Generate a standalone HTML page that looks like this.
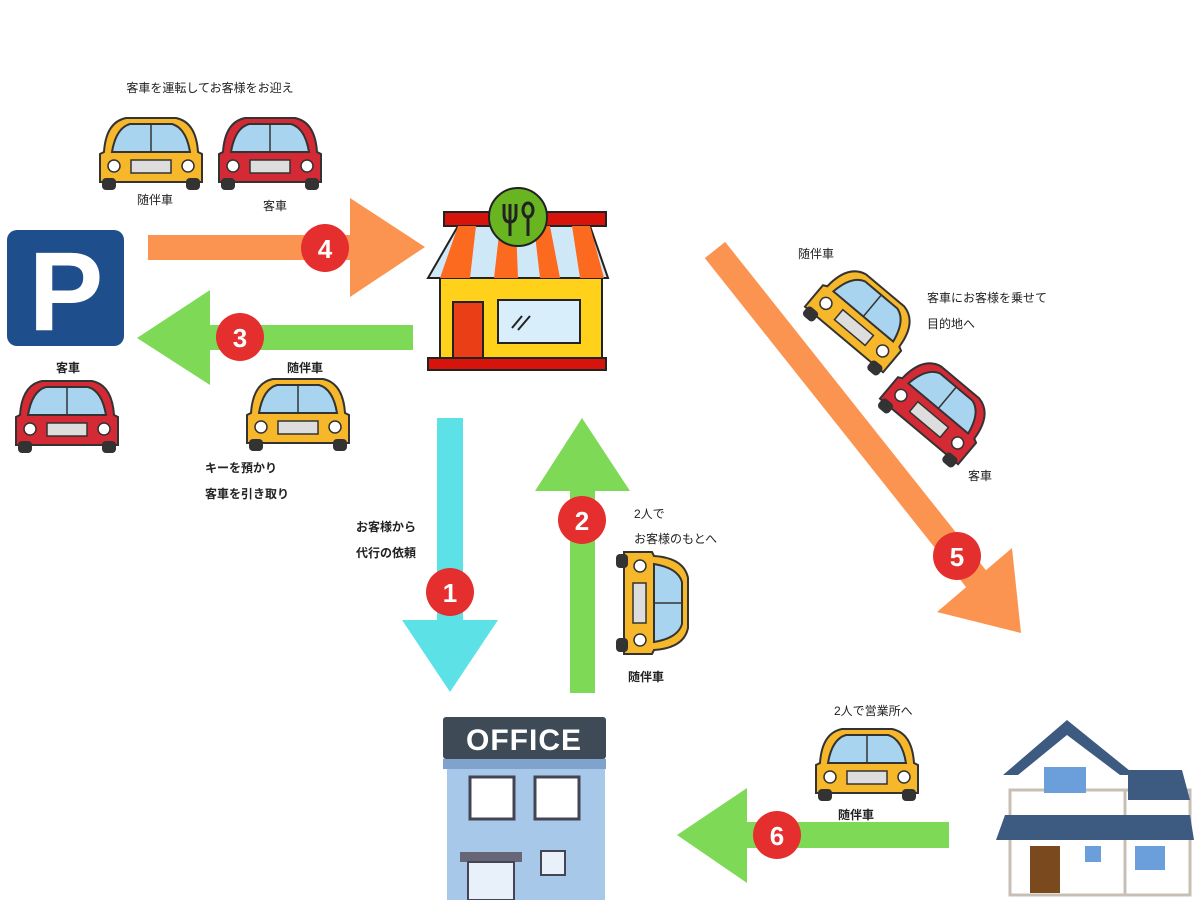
<!DOCTYPE html>
<html><head><meta charset="utf-8"><style>
body{margin:0;background:#fff}
svg text{font-family:"Liberation Sans","Noto Sans CJK JP",sans-serif;font-size:12px;fill:#222}
</style></head><body>
<svg width="1200" height="900" viewBox="0 0 1200 900" xmlns="http://www.w3.org/2000/svg">
<defs>
<g id="carF">
 <path d="M8,38 Q10,8 30,4 L80,4 Q100,8 102,38 L106,40 L106,68 L4,68 L4,40 Z" stroke="#333" stroke-width="2"/>
 <path d="M16,38 Q20,14 34,10 L76,10 Q90,14 94,38 Z" fill="#a9d4ef" stroke="#333" stroke-width="2"/>
 <line x1="55" y1="10" x2="55" y2="38" stroke="#333" stroke-width="1.5"/>
 <rect x="35" y="46" width="40" height="13" fill="#ddd" stroke="#333" stroke-width="1.5"/>
 <circle cx="18" cy="52" r="6" fill="#fff" stroke="#333" stroke-width="1.5"/>
 <circle cx="92" cy="52" r="6" fill="#fff" stroke="#333" stroke-width="1.5"/>
 <rect x="6" y="64" width="14" height="12" rx="4" fill="#333"/>
 <rect x="90" y="64" width="14" height="12" rx="4" fill="#333"/>
</g>
</defs>

<rect x="7" y="230" width="117" height="116" rx="10" fill="#1f4e8c"/>
<text x="66" y="330" text-anchor="middle" style="font-size:112px;font-weight:bold;fill:#fff">P</text>

<rect x="148" y="235" width="205" height="25" fill="#fb9450"/>
<polygon points="350,198 350,297 425,247" fill="#fb9450"/>
<circle cx="325" cy="248" r="24" fill="#e52e2e"/><text x="325" y="258" text-anchor="middle" style="font-size:26px;font-weight:bold;fill:#fff">4</text>
<rect x="205" y="325" width="208" height="25" fill="#7ed957"/>
<polygon points="210,290 210,385 137,338" fill="#7ed957"/>
<circle cx="240" cy="337" r="24" fill="#e52e2e"/><text x="240" y="347" text-anchor="middle" style="font-size:26px;font-weight:bold;fill:#fff">3</text>
<rect x="437" y="418" width="26" height="205" fill="#5ce1e6"/>
<polygon points="402,620 498,620 450,692" fill="#5ce1e6"/>
<circle cx="450" cy="592" r="24" fill="#e52e2e"/><text x="450" y="602" text-anchor="middle" style="font-size:26px;font-weight:bold;fill:#fff">1</text>
<rect x="570" y="488" width="25" height="205" fill="#7ed957"/>
<polygon points="535,491 630,491 582,418" fill="#7ed957"/>
<circle cx="582" cy="520" r="24" fill="#e52e2e"/><text x="582" y="530" text-anchor="middle" style="font-size:26px;font-weight:bold;fill:#fff">2</text>
<line x1="715" y1="250" x2="985" y2="590" stroke="#fb9450" stroke-width="26"/>
<polygon points="1021,633 937,612 1012,548" fill="#fb9450"/>
<circle cx="957" cy="556" r="24" fill="#e52e2e"/><text x="957" y="566" text-anchor="middle" style="font-size:26px;font-weight:bold;fill:#fff">5</text>
<rect x="742" y="822" width="207" height="26" fill="#7ed957"/>
<polygon points="747,788 747,883 677,835" fill="#7ed957"/>
<circle cx="777" cy="835" r="24" fill="#e52e2e"/><text x="777" y="845" text-anchor="middle" style="font-size:26px;font-weight:bold;fill:#fff">6</text>

<!-- restaurant -->
<rect x="444" y="212" width="162" height="14" fill="#d7140c" stroke="#222" stroke-width="2"/>
<rect x="440" y="270" width="162" height="92" fill="#ffd11a" stroke="#222" stroke-width="2"/>
<path d="M458,226 L590,226 L608,278 L428,278 Z" fill="#cfe8f8" stroke="#222" stroke-width="2"/>
<path d="M458,226 L476,226 L470,278 L440,278 Z M500,226 L516,226 L518,278 L494,278 Z M534,226 L550,226 L560,278 L540,278 Z M572,226 L590,226 L604,278 L580,278 Z" fill="#fb6a1f"/>
<rect x="453" y="302" width="30" height="60" fill="#ea3e16" stroke="#222" stroke-width="2"/>
<rect x="498" y="300" width="82" height="43" fill="#d8eefa" stroke="#222" stroke-width="2"/>
<line x1="512" y1="328" x2="522" y2="316" stroke="#222" stroke-width="2"/>
<line x1="518" y1="330" x2="530" y2="316" stroke="#222" stroke-width="2"/>
<rect x="428" y="358" width="178" height="12" fill="#d7140c" stroke="#222" stroke-width="2"/>
<circle cx="518" cy="217" r="29" fill="#69b521" stroke="#222" stroke-width="2"/>
<path d="M504,204 L504,214 Q504,222 510,222 Q516,222 516,214 L516,204 M510,204 L510,236" fill="none" stroke="#222" stroke-width="3"/>
<ellipse cx="528" cy="210" rx="5" ry="7" fill="none" stroke="#222" stroke-width="3"/>
<line x1="528" y1="217" x2="528" y2="236" stroke="#222" stroke-width="3"/>

<!-- office -->
<rect x="447" y="755" width="158" height="145" fill="#a7c8e8"/>
<rect x="443" y="717" width="163" height="42" rx="3" fill="#3e4a55"/>
<text x="524" y="750" text-anchor="middle" style="font-size:30px;font-weight:bold;fill:#fff;letter-spacing:1px">OFFICE</text>
<rect x="443" y="759" width="163" height="10" fill="#7fa3cc"/>
<rect x="470" y="777" width="44" height="42" fill="#fff" stroke="#445" stroke-width="3"/>
<rect x="535" y="777" width="44" height="42" fill="#fff" stroke="#445" stroke-width="3"/>
<rect x="460" y="852" width="62" height="10" fill="#667"/>
<rect x="468" y="862" width="46" height="38" fill="#e8f1fa" stroke="#445" stroke-width="2"/>
<rect x="541" y="851" width="24" height="24" fill="#e8f1fa" stroke="#445" stroke-width="2"/>

<!-- house -->
<rect x="1010" y="790" width="130" height="105" fill="#fff" stroke="#c8bfb4" stroke-width="3"/>
<rect x="1125" y="790" width="65" height="105" fill="#fff" stroke="#c8bfb4" stroke-width="3"/>
<polygon points="1003,775 1067,720 1135,775 1120,775 1067,735 1018,775" fill="#3d5a80"/>
<polygon points="1128,770 1182,770 1190,800 1128,800" fill="#3d5a80"/>
<polygon points="1005,815 1190,815 1194,840 996,840" fill="#3d5a80"/>
<rect x="1044" y="767" width="42" height="26" fill="#6a9fdc"/>
<rect x="1030" y="846" width="30" height="47" fill="#7a4a1e"/>
<rect x="1085" y="846" width="16" height="16" fill="#6a9fdc"/>
<rect x="1135" y="846" width="30" height="24" fill="#6a9fdc"/>

<!-- cars -->
<use href="#carF" x="96" y="114" fill="#f7b72a"/>
<use href="#carF" x="215" y="114" fill="#d42a35"/>
<use href="#carF" x="12" y="377" fill="#d42a35"/>
<use href="#carF" x="243" y="375" fill="#f7b72a"/>
<use href="#carF" x="812" y="725" fill="#f7b72a"/>
<g transform="translate(652,603) rotate(90) translate(-55,-40)"><use href="#carF" fill="#f7b72a"/></g>
<g transform="translate(862,318) rotate(40) translate(-55,-40)"><use href="#carF" fill="#f7b72a"/></g>
<g transform="translate(937,410) rotate(40) translate(-55,-40)"><use href="#carF" fill="#d42a35"/></g>

<text x="210" y="92" text-anchor="middle">客車を運転してお客様をお迎え</text>
<text x="155" y="204" text-anchor="middle">随伴車</text>
<text x="275" y="210" text-anchor="middle">客車</text>
<text x="68" y="372" text-anchor="middle" style="font-weight:bold">客車</text>
<text x="305" y="372" text-anchor="middle" style="font-weight:bold">随伴車</text>
<text x="205" y="472" style="font-weight:bold">キーを預かり</text>
<text x="205" y="498" style="font-weight:bold">客車を引き取り</text>
<text x="356" y="531" style="font-weight:bold">お客様から</text>
<text x="356" y="557" style="font-weight:bold">代行の依頼</text>
<text x="634" y="518">2人で</text>
<text x="634" y="543">お客様のもとへ</text>
<text x="628" y="681" style="font-weight:bold">随伴車</text>
<text x="798" y="258">随伴車</text>
<text x="927" y="302">客車にお客様を乗せて</text>
<text x="927" y="328">目的地へ</text>
<text x="968" y="480">客車</text>
<text x="834" y="715">2人で営業所へ</text>
<text x="838" y="819" style="font-weight:bold">随伴車</text>
</svg>
</body></html>
